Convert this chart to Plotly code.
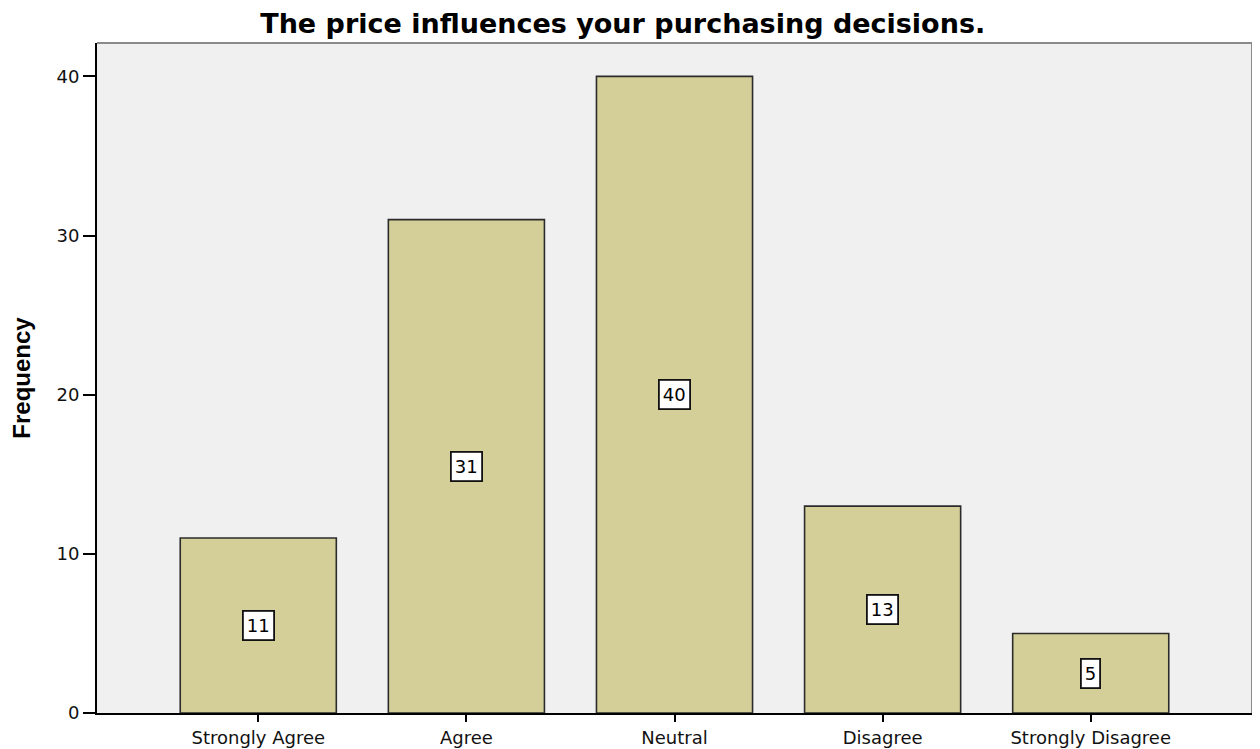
import plotly.graph_objects as go

categories = ["Strongly Agree", "Agree", "Neutral", "Disagree", "Strongly Disagree"]
frequencies = [11, 31, 40, 13, 5]
y_ticks = [0, 10, 20, 30, 40]
title_text = "The price influences your purchasing decisions."
y_title = "Frequency"

WIDE = "DejaVu Sans, Liberation Sans, Arial, sans-serif"

fig = go.Figure()
fig.add_trace(go.Bar(
    x=categories,
    y=frequencies,
    marker=dict(color="#d4cf98", line=dict(color="#2b2b2b", width=1.6)),
    width=0.75,
    hoverinfo="x+y",
))

for c, v in zip(categories, frequencies):
    fig.add_annotation(
        x=c, y=v / 2, xref="x", yref="y",
        text=str(v), showarrow=False,
        font=dict(family=WIDE, size=18, color="#000"),
        bgcolor="#ffffff", bordercolor="#111111", borderwidth=1.8, borderpad=3,
    )

# top and right frame lines (gray)
fig.add_shape(type="line", xref="paper", yref="paper", x0=0, x1=1, y0=1, y1=1,
              line=dict(color="#8a8a8a", width=2))
fig.add_shape(type="line", xref="paper", yref="paper", x0=1, x1=1, y0=0, y1=1,
              line=dict(color="#8a8a8a", width=2))

# page body has an 8px margin, so the figure is sized to fit the window
fig.update_layout(
    width=1252, height=741,
    margin=dict(l=89, r=8, t=35, b=36, autoexpand=False),
    paper_bgcolor="#ffffff",
    plot_bgcolor="#f0f0f0",
    showlegend=False,
    title=dict(text="<b>" + title_text + "</b>", x=0.491, xanchor="center",
               y=0.979, yanchor="middle",
               font=dict(family=WIDE, size=27, color="#000")),
    font=dict(family=WIDE, color="#000"),
)

fig.update_xaxes(
    range=[-0.775, 4.775],
    automargin=False,
    showgrid=False, zeroline=False,
    showline=True, linecolor="#000", linewidth=2,
    ticks="outside", ticklen=7, tickwidth=2, tickcolor="#000",
    tickfont=dict(family=WIDE, size=18, color="#111"),
)
fig.update_yaxes(
    range=[0, 42.1],
    automargin=False,
    tickvals=y_ticks,
    showgrid=False, zeroline=False,
    showline=True, linecolor="#000", linewidth=2,
    ticks="outside", ticklen=12, tickwidth=2, tickcolor="#000",
    tickfont=dict(family=WIDE, size=18, color="#111"),
    title=dict(text="<b>" + y_title + "</b>", standoff=20,
               font=dict(family="Liberation Sans, Arial, sans-serif", size=24, color="#000")),
)

fig.write_html("out.html")
